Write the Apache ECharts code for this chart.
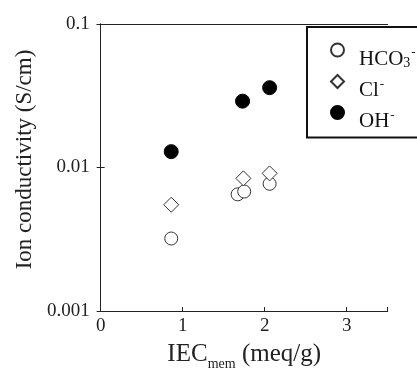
<!DOCTYPE html>
<html><head><meta charset="utf-8">
<script src="https://cdn.jsdelivr.net/npm/echarts@6/dist/echarts.min.js"></script>
<style>html,body{margin:0;padding:0;background:#fff}#c{width:417px;height:371px}</style>
</head><body><div id="c"></div>
<script>
const seriesNames = ['HCO3', 'Cl', 'OH'];
const hco3X = [0.86, 1.67, 1.75, 2.06];
const hco3Y = [0.0032, 0.0065, 0.0068, 0.0077];
const clX = [0.86, 1.74, 2.06];
const clY = [0.0055, 0.0084, 0.0091];
const ohX = [0.86, 1.73, 2.06];
const ohY = [0.0129, 0.029, 0.036];
const xTicks = [0, 1, 2, 3];
const yTicks = [0.001, 0.01, 0.1];

const pair = (xs, ys) => xs.map((x, i) => [x, ys[i]]);
const serif = '"Liberation Serif", "Times New Roman", serif';
const chart = echarts.init(document.getElementById('c'));
const legendLabel = {
  HCO3: 'HCO{sub|3}{sup|-}',
  Cl: 'Cl{sup|-}',
  OH: 'OH{sup|-}'
};
chart.setOption({
  animation: false,
  grid: { left: 100.7, top: 24, right: 29.3, bottom: 60, containLabel: false, outerBoundsMode: 'none' },
  xAxis: [{
    type: 'value', min: 0, max: 3.5, interval: 1,
    axisLine: { lineStyle: { color: '#222', width: 1 } },
    axisTick: { inside: true, length: 4, lineStyle: { color: '#222' } },
    splitLine: { show: false },
    axisLabel: {
      margin: 6, color: '#222', fontFamily: serif, fontSize: 19,
      formatter: v => (xTicks.includes(v) ? String(v) : '')
    },
    name: 'IEC{sub|mem} (meq/g)',
    nameLocation: 'middle', nameGap: 26,
    nameTextStyle: {
      fontFamily: serif, fontSize: 25, color: '#222',
      rich: { sub: { fontFamily: serif, fontSize: 14, color: '#222', verticalAlign: 'bottom', padding: [20, 0, 0, 0] } }
    }
  }, {
    type: 'value', min: 0, max: 3.5, interval: 1, position: 'top',
    axisLine: { lineStyle: { color: '#222' } },
    axisTick: { show: false }, axisLabel: { show: false }, splitLine: { show: false }
  }],
  yAxis: [{
    type: 'log', logBase: 10, min: 0.001, max: 0.1,
    axisLine: { show: true, lineStyle: { color: '#222' } },
    axisTick: { show: true, inside: true, length: 4, lineStyle: { color: '#222' } },
    minorTick: { show: false },
    splitLine: { show: false },
    axisLabel: {
      margin: 11, color: '#222', fontFamily: serif, fontSize: 19,
      formatter: v => {
        const t = yTicks.find(k => Math.abs(Math.log10(k) - Math.log10(v)) < 1e-6);
        return t !== undefined ? String(t) : '';
      }
    },
    name: 'Ion conductivity (S/cm)',
    nameLocation: 'middle', nameGap: 62,
    nameTextStyle: { fontFamily: serif, fontSize: 23, color: '#222', padding: [0, 0, 0, 16] }
  }, {
    type: 'log', logBase: 10, min: 0.001, max: 0.1, position: 'right',
    axisLine: { show: true, lineStyle: { color: '#222' } },
    axisTick: { show: true, inside: true, length: 4, lineStyle: { color: '#222' } },
    axisLabel: { show: false }, splitLine: { show: false }
  }],
  legend: {
    orient: 'vertical', left: 307, top: 27,
    padding: [15.5, 60, 5.5, 23], itemGap: 4,
    backgroundColor: '#fff', borderColor: '#111', borderWidth: 2,
    itemWidth: 13, itemHeight: 13,
    data: seriesNames,
    formatter: n => legendLabel[n],
    textStyle: {
      fontFamily: serif, fontSize: 21, color: '#111', padding: [18, 0, 0, 10],
      rich: {
        sub: { fontFamily: serif, fontSize: 14, color: '#111', padding: [8, 0, 0, 0] },
        sup: { fontFamily: serif, fontSize: 13, color: '#111', padding: [0, 0, 12, 1] }
      }
    }
  },
  series: [{
    name: 'HCO3', type: 'scatter', data: pair(hco3X, hco3Y),
    symbol: 'circle', symbolSize: 13,
    itemStyle: { color: '#fff', borderColor: '#333', borderWidth: 1, opacity: 1 }
  }, {
    name: 'Cl', type: 'scatter', data: pair(clX, clY),
    symbol: 'diamond', symbolSize: 15,
    itemStyle: { color: '#fff', borderColor: '#333', borderWidth: 1, opacity: 1 }
  }, {
    name: 'OH', type: 'scatter', data: pair(ohX, ohY),
    symbol: 'circle', symbolSize: 14,
    itemStyle: { color: '#000', borderColor: '#000', borderWidth: 1, opacity: 1 }
  }]
});
</script></body></html>
